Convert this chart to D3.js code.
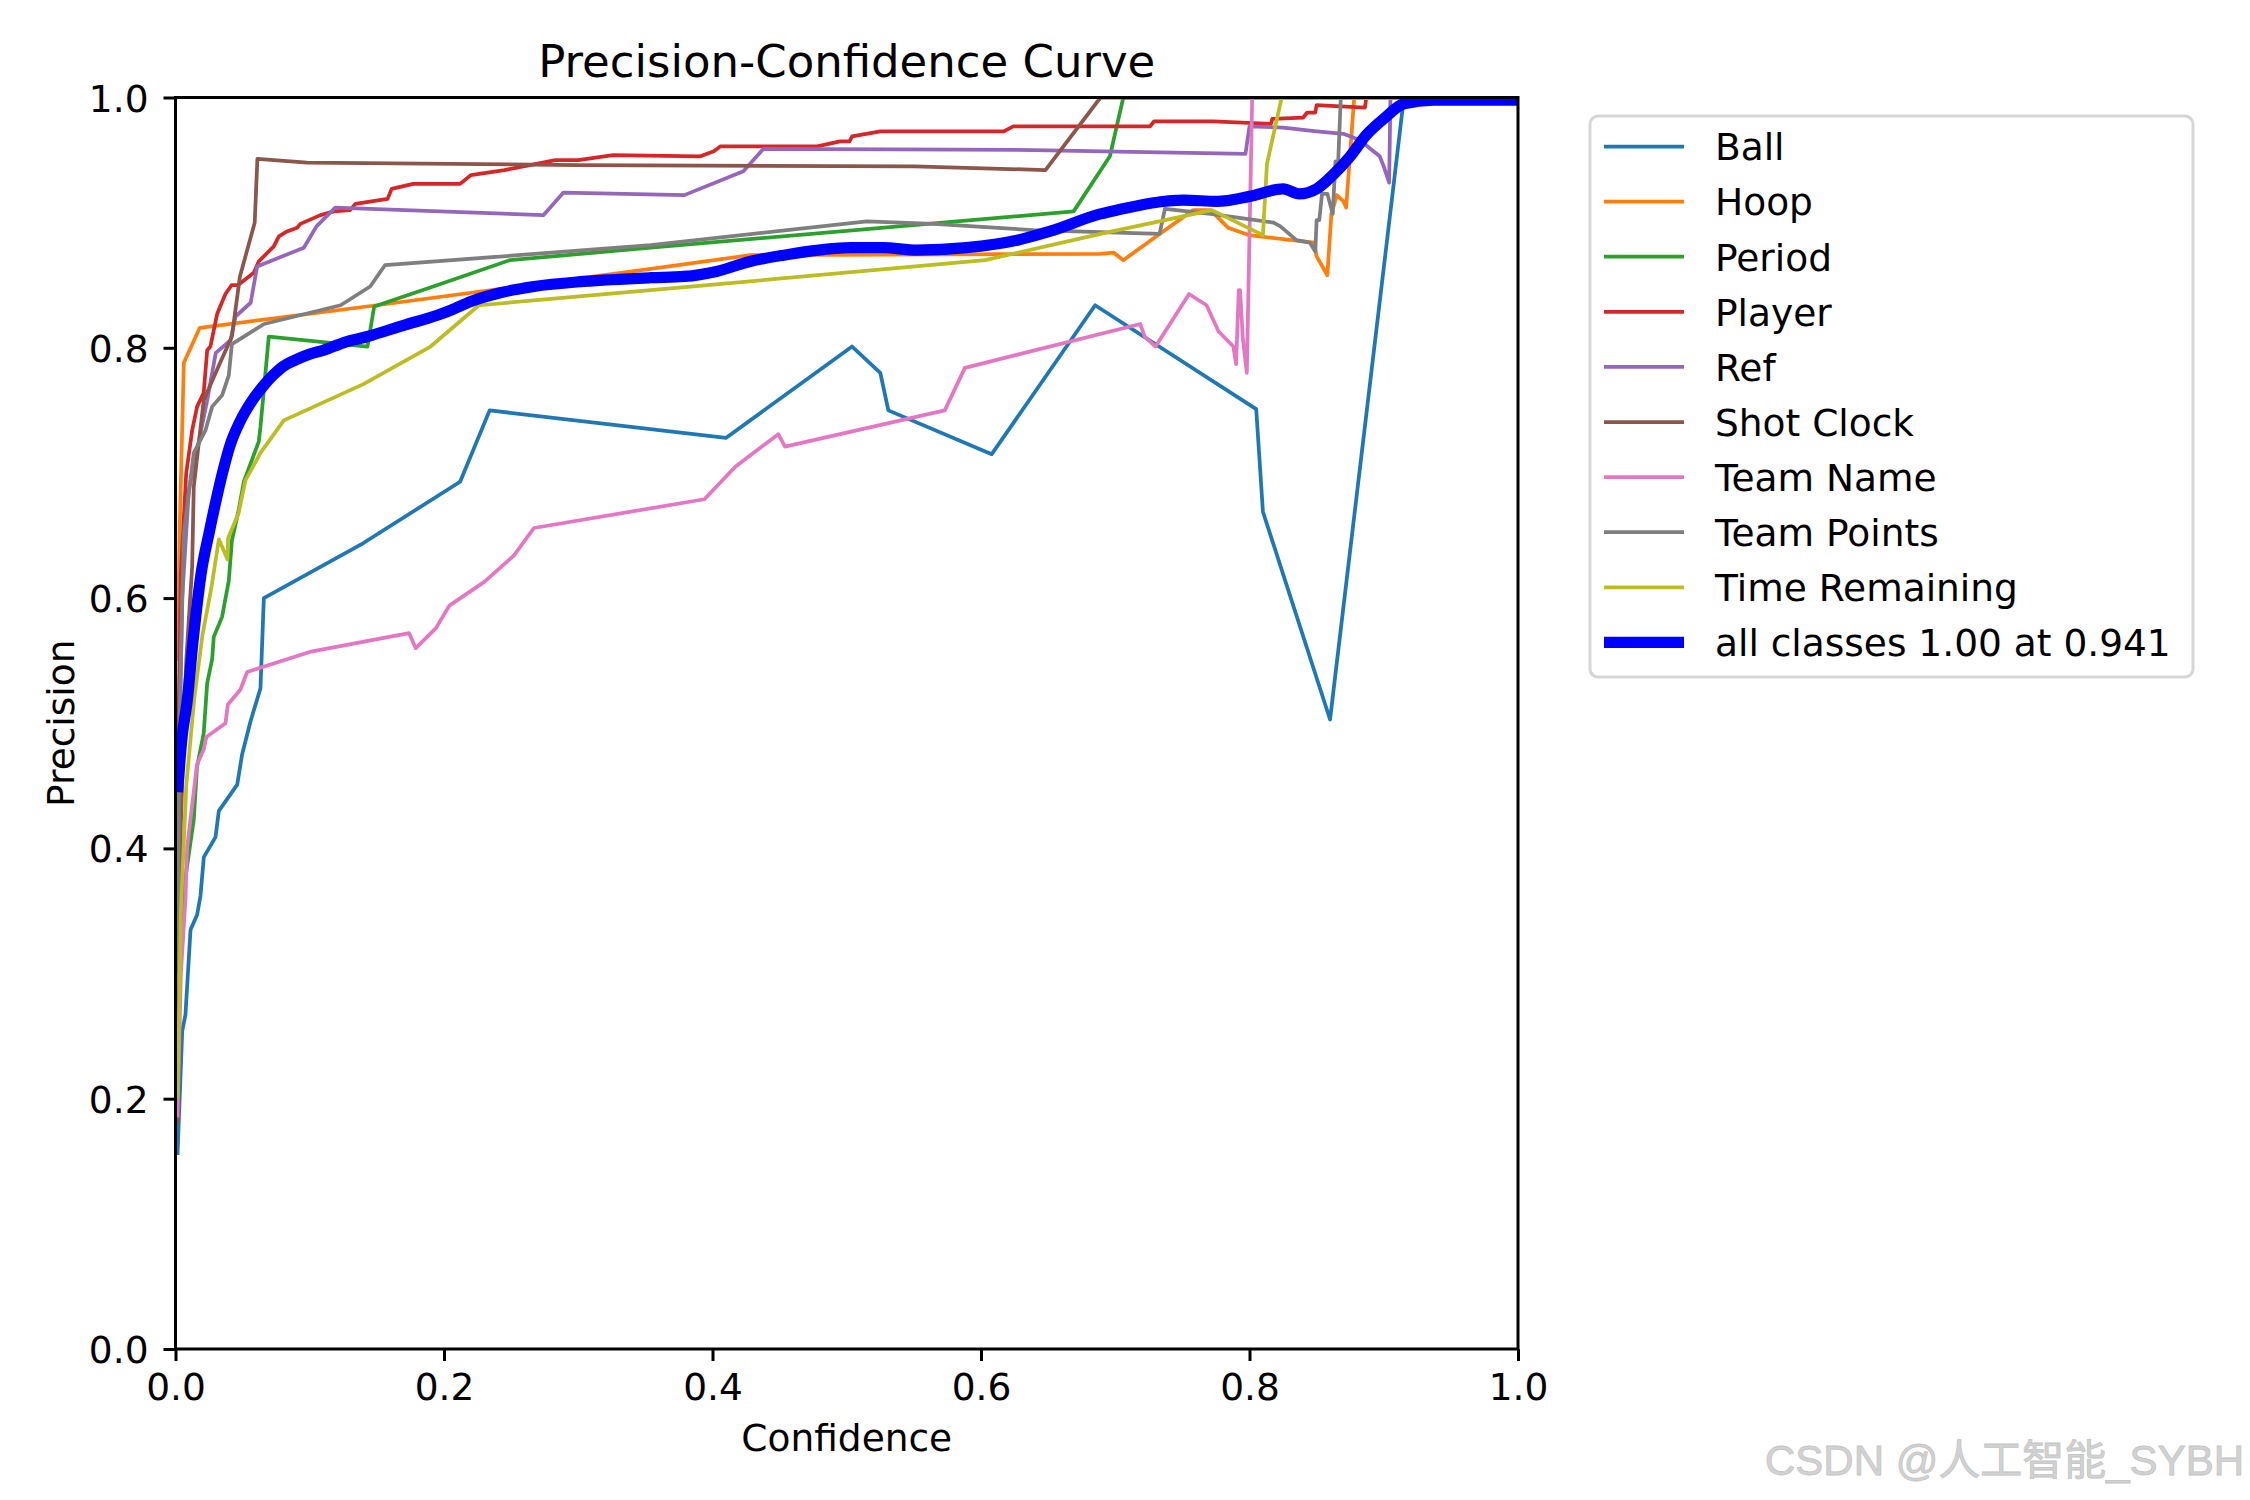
<!DOCTYPE html>
<html>
<head>
<meta charset="utf-8">
<script src="https://cdn.jsdelivr.net/npm/d3@7"></script>
<style>
  body { margin: 0; background: #fff; }
  text { font-family: "DejaVu Sans", sans-serif; }
</style>
</head>
<body>
<div id="chart"></div>
<script>
// class names, in plot order
var classNames = ["Ball", "Hoop", "Period", "Player", "Ref", "Shot Clock", "Team Name", "Team Points", "Time Remaining"];
var classColors = ["#1f77b4", "#ff7f0e", "#2ca02c", "#d62728", "#9467bd", "#8c564b", "#e377c2", "#7f7f7f", "#bcbd22"];
var allLabel = "all classes 1.00 at 0.941";
var xTicks = [0, 0.2, 0.4, 0.6, 0.8, 1.0];
var yTicks = [0, 0.2, 0.4, 0.6, 0.8, 1.0];

// [confidence, precision] pairs
var ball = [[0.0015,0.155],[0.005,0.254],[0.0074,0.267],[0.0112,0.335],[0.0161,0.347],[0.0186,0.362],[0.0211,0.393],[0.0298,0.409],[0.0323,0.430],[0.046,0.451],[0.0496,0.475],[0.056,0.502],[0.0633,0.528],[0.0658,0.600],[0.140,0.644],[0.212,0.693],[0.234,0.750],[0.410,0.728],[0.504,0.801],[0.525,0.780],[0.531,0.750],[0.608,0.715],[0.685,0.834],[0.805,0.751],[0.810,0.669],[0.860,0.503],[0.906,0.918],[0.915,1.0],[1.0,1.0]];
var hoop = [[0.0015,0.55],[0.003,0.65],[0.0062,0.788],[0.0181,0.816],[0.150,0.834],[0.354,0.863],[0.428,0.874],[0.689,0.875],[0.699,0.876],[0.706,0.870],[0.733,0.891],[0.758,0.910],[0.771,0.910],[0.784,0.896],[0.800,0.890],[0.848,0.884],[0.850,0.873],[0.858,0.858],[0.861,0.907],[0.865,0.922],[0.870,0.917],[0.872,0.912],[0.878,1.0],[1.0,1.0]];
var period = [[0.0015,0.22],[0.005,0.359],[0.0136,0.423],[0.016,0.465],[0.021,0.492],[0.0236,0.532],[0.0273,0.551],[0.0285,0.569],[0.0347,0.585],[0.0397,0.614],[0.042,0.646],[0.047,0.670],[0.0509,0.693],[0.062,0.725],[0.0633,0.737],[0.0695,0.809],[0.143,0.801],[0.148,0.833],[0.192,0.849],[0.249,0.870],[0.354,0.880],[0.669,0.909],[0.696,0.953],[0.706,1.0],[1.0,1.0]];
var player = [[0.0015,0.45],[0.004,0.62],[0.008,0.70],[0.0124,0.734],[0.0161,0.753],[0.021,0.764],[0.0236,0.798],[0.026,0.801],[0.031,0.827],[0.0372,0.843],[0.0417,0.850],[0.0464,0.850],[0.0583,0.860],[0.062,0.869],[0.0732,0.881],[0.077,0.889],[0.0831,0.893],[0.0906,0.896],[0.093,0.899],[0.108,0.906],[0.118,0.909],[0.130,0.910],[0.134,0.915],[0.158,0.919],[0.161,0.927],[0.177,0.931],[0.212,0.931],[0.220,0.938],[0.245,0.942],[0.264,0.946],[0.283,0.950],[0.300,0.950],[0.326,0.954],[0.391,0.953],[0.401,0.957],[0.406,0.961],[0.478,0.961],[0.495,0.965],[0.502,0.965],[0.504,0.969],[0.525,0.973],[0.617,0.973],[0.624,0.977],[0.726,0.977],[0.729,0.981],[0.773,0.981],[0.816,0.979],[0.817,0.983],[0.840,0.984],[0.843,0.988],[0.849,0.988],[0.850,0.994],[0.886,0.992],[0.887,1.0],[1.0,1.0]];
var ref = [[0.0015,0.40],[0.005,0.60],[0.0099,0.686],[0.0236,0.758],[0.030,0.796],[0.041,0.806],[0.0447,0.825],[0.056,0.836],[0.0608,0.865],[0.0956,0.880],[0.105,0.897],[0.119,0.912],[0.274,0.906],[0.289,0.924],[0.379,0.922],[0.423,0.941],[0.438,0.959],[0.639,0.958],[0.797,0.955],[0.800,0.977],[0.825,0.976],[0.850,0.973],[0.870,0.971],[0.882,0.966],[0.890,0.959],[0.897,0.953],[0.900,0.945],[0.904,0.932],[0.905,1.0],[1.0,1.0]];
var shotClock = [[0.0015,0.18],[0.004,0.42],[0.008,0.55],[0.0124,0.625],[0.0136,0.689],[0.021,0.758],[0.032,0.785],[0.042,0.809],[0.048,0.857],[0.059,0.90],[0.061,0.951],[0.098,0.948],[0.3,0.946],[0.55,0.945],[0.648,0.942],[0.689,1.0],[1.0,1.0]];
var teamName = [[0.0015,0.185],[0.004,0.30],[0.0074,0.359],[0.0087,0.401],[0.016,0.467],[0.021,0.479],[0.023,0.489],[0.0372,0.500],[0.039,0.515],[0.0484,0.527],[0.0534,0.541],[0.100,0.557],[0.174,0.572],[0.179,0.560],[0.194,0.576],[0.204,0.594],[0.230,0.613],[0.252,0.634],[0.267,0.656],[0.394,0.679],[0.417,0.705],[0.449,0.731],[0.454,0.721],[0.573,0.750],[0.588,0.784],[0.7186,0.819],[0.722,0.809],[0.730,0.801],[0.755,0.843],[0.768,0.834],[0.777,0.813],[0.788,0.801],[0.790,0.787],[0.792,0.846],[0.793,0.846],[0.795,0.808],[0.798,0.780],[0.802,1.0],[1.0,1.0]];
var teamPoints = [[0.0015,0.30],[0.003,0.50],[0.0062,0.652],[0.0136,0.716],[0.0223,0.734],[0.0273,0.753],[0.0347,0.762],[0.0397,0.778],[0.042,0.803],[0.066,0.819],[0.123,0.834],[0.145,0.849],[0.156,0.866],[0.354,0.882],[0.515,0.901],[0.565,0.899],[0.639,0.894],[0.733,0.891],[0.737,0.911],[0.771,0.907],[0.818,0.900],[0.823,0.897],[0.835,0.886],[0.845,0.884],[0.849,0.877],[0.850,0.902],[0.852,0.902],[0.854,0.923],[0.858,0.923],[0.862,0.907],[0.864,0.949],[0.866,0.947],[0.868,1.0],[1.0,1.0]];
var timeRemaining = [[0.0015,0.20],[0.004,0.35],[0.008,0.45],[0.014,0.52],[0.02,0.57],[0.027,0.61],[0.0323,0.647],[0.0387,0.631],[0.0392,0.648],[0.047,0.668],[0.0521,0.694],[0.0633,0.716],[0.0807,0.742],[0.140,0.771],[0.190,0.801],[0.226,0.834],[0.354,0.846],[0.603,0.870],[0.689,0.891],[0.772,0.910],[0.810,0.890],[0.813,0.947],[0.824,1.0],[1.0,1.0]];
var allClasses = [[0.0015,0.445],[0.005,0.49],[0.0085,0.516],[0.013,0.565],[0.019,0.619],[0.025,0.652],[0.030,0.677],[0.035,0.700],[0.0406,0.722],[0.048,0.741],[0.0566,0.757],[0.065,0.769],[0.0726,0.778],[0.080,0.785],[0.0887,0.790],[0.100,0.795],[0.110,0.798],[0.125,0.804],[0.143,0.809],[0.170,0.818],[0.195,0.826],[0.205,0.830],[0.220,0.837],[0.242,0.844],[0.267,0.849],[0.304,0.853],[0.354,0.856],[0.379,0.857],[0.403,0.861],[0.428,0.869],[0.453,0.874],[0.503,0.880],[0.527,0.880],[0.552,0.878],[0.589,0.880],[0.627,0.886],[0.651,0.893],[0.689,0.907],[0.701,0.910],[0.751,0.918],[0.776,0.917],[0.800,0.921],[0.825,0.927],[0.837,0.923],[0.850,0.927],[0.862,0.938],[0.875,0.953],[0.887,0.970],[0.900,0.983],[0.915,0.995],[0.937,0.998],[1.0,0.998]];

var classSeries = [ball, hoop, period, player, ref, shotClock, teamName, teamPoints, timeRemaining];

var svgWidth = 2250;
var svgHeight = 1500;
var plot = { left: 175.5, right: 1518, top: 97.5, bottom: 1349 };
var fs = 37.5;

var svg = d3.select("#chart")
  .append("svg")
  .attr("width", svgWidth)
  .attr("height", svgHeight);

var x = d3.scaleLinear().domain([0, 1]).range([plot.left, plot.right]);
var y = d3.scaleLinear().domain([0, 1]).range([plot.bottom, plot.top]);

svg.append("clipPath").attr("id", "plotClip")
  .append("rect")
  .attr("x", plot.left).attr("y", plot.top)
  .attr("width", plot.right - plot.left).attr("height", plot.bottom - plot.top);

var line = d3.line().x(d => x(d[0])).y(d => y(d[1]));
var smoothLine = d3.line().x(d => x(d[0])).y(d => y(d[1])).curve(d3.curveMonotoneX);

var lines = svg.append("g").attr("clip-path", "url(#plotClip)");

classSeries.forEach(function(s, i) {
  lines.append("path")
    .attr("d", line(s))
    .attr("fill", "none")
    .attr("stroke", classColors[i])
    .attr("stroke-width", 3.75)
    .attr("stroke-linejoin", "round");
});

lines.append("path")
  .attr("d", smoothLine(allClasses))
  .attr("fill", "none")
  .attr("stroke", "#0000ff")
  .attr("stroke-width", 11.25)
  .attr("stroke-linejoin", "round");

// axes
var xAxis = svg.append("g")
  .attr("transform", `translate(0, ${plot.bottom})`)
  .call(d3.axisBottom(x).tickValues(xTicks).tickFormat(d3.format(".1f")).tickSize(12).tickPadding(12.5));

var yAxis = svg.append("g")
  .attr("transform", `translate(${plot.left}, 0)`)
  .call(d3.axisLeft(y).tickValues(yTicks).tickFormat(d3.format(".1f")).tickSize(12).tickPadding(15));

[xAxis, yAxis].forEach(function(a) {
  a.select(".domain").remove();
  a.selectAll(".tick line").attr("stroke", "#000").attr("stroke-width", 3);
  a.selectAll(".tick text")
    .attr("fill", "#000")
    .style("font-size", fs + "px")
    .style("font-family", "DejaVu Sans");
});
yAxis.selectAll(".tick text").attr("dy", "0.36em");

// frame
svg.append("rect")
  .attr("x", plot.left).attr("y", plot.top)
  .attr("width", plot.right - plot.left).attr("height", plot.bottom - plot.top)
  .attr("fill", "none")
  .attr("stroke", "#000")
  .attr("stroke-width", 3);

// title and labels
var midX = (plot.left + plot.right) / 2;
svg.append("text")
  .attr("x", midX).attr("y", 77)
  .attr("text-anchor", "middle")
  .style("font-size", "45px")
  .text("Precision-Confidence Curve");

svg.append("text")
  .attr("x", midX).attr("y", 1451)
  .attr("text-anchor", "middle")
  .style("font-size", fs + "px")
  .text("Confidence");

svg.append("text")
  .attr("transform", `translate(74, ${(plot.top + plot.bottom) / 2}) rotate(-90)`)
  .attr("text-anchor", "middle")
  .style("font-size", fs + "px")
  .text("Precision");

// legend
var legend = svg.append("g");
legend.append("rect")
  .attr("x", 1590).attr("y", 116)
  .attr("width", 603).attr("height", 561)
  .attr("rx", 8)
  .attr("fill", "#fff").attr("fill-opacity", 0.8)
  .attr("stroke", "#cccccc").attr("stroke-opacity", 0.8)
  .attr("stroke-width", 3);

var legendItems = classNames.map((n, i) => ({ name: n, color: classColors[i], w: 3.75 }))
  .concat([{ name: allLabel, color: "#0000ff", w: 11.25 }]);

var rows = legend.selectAll("g.row")
  .data(legendItems)
  .enter()
  .append("g")
  .attr("class", "row")
  .attr("transform", (d, i) => `translate(0, ${146.5 + i * 55.1})`);

rows.append("line")
  .attr("x1", 1604).attr("x2", 1684)
  .attr("stroke", d => d.color)
  .attr("stroke-width", d => d.w);

rows.append("text")
  .attr("x", 1715)
  .attr("dy", "0.37em")
  .style("font-size", fs + "px")
  .text(d => d.name);

// watermark
svg.append("text")
  .attr("x", 2244).attr("y", 1475)
  .attr("text-anchor", "end")
  .attr("fill", "#d2d2d2")
  .attr("stroke", "#c4c4c4")
  .attr("stroke-width", 0.8)
  .style("font-family", "'Liberation Sans', 'Noto Sans CJK SC', sans-serif")
  .style("font-size", "42px")
  .text("CSDN @人工智能_SYBH");
</script>
</body>
</html>
